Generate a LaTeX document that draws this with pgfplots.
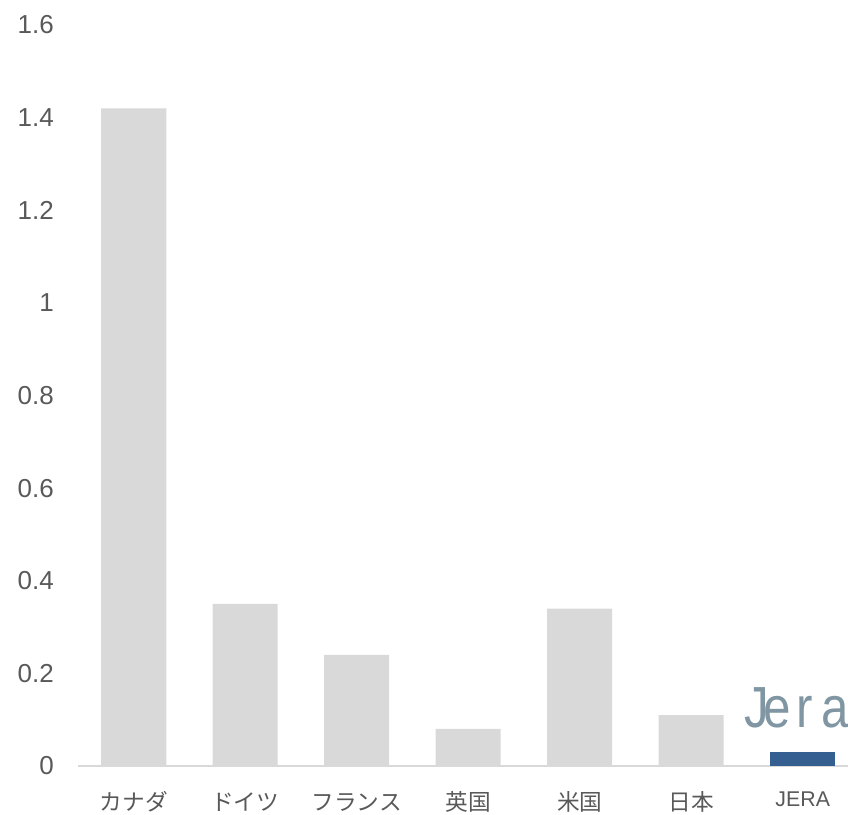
\documentclass[border=0pt]{standalone}
\usepackage{fontspec}
\setmainfont{Liberation Sans}
\newfontfamily\jpfont{Noto Sans CJK JP}
\usepackage{pgfplots}
\pgfplotsset{compat=1.18}

\definecolor{barGray}{HTML}{D9D9D9}
\definecolor{jeraBlue}{HTML}{355F91}
\definecolor{tickGray}{HTML}{595959}
\definecolor{logoGray}{HTML}{8096A2}

% values per country (x = category index)
\pgfplotstableread{
x val
0 1.42
1 0.35
2 0.24
3 0.08
4 0.34
5 0.11
}\countries
\pgfplotstableread{
x val
6 0.03
}\jera

\begin{document}
\begin{tikzpicture}
\begin{axis}[
  scale only axis,
  width=577.5pt, height=555.75pt,
  xmin=-0.5, xmax=6.406,
  ymin=0, ymax=1.6,
  axis line style={draw=none},
  major tick length=0pt,
  tick style={draw=none},
  ytick={0,0.2,0.4,0.6,0.8,1,1.2,1.4,1.6},
  yticklabels={0,0.2,0.4,0.6,0.8,1,1.2,1.4,1.6},
  yticklabel style={anchor=east, inner sep=0pt, xshift=-18pt,
    font=\fontsize{19.5}{21}\selectfont, text=tickGray},
  xtick={0,1,2,3,4,5,6},
  xticklabels={カナダ,ドイツ,フランス,英国,米国,日本,
    {\rmfamily\fontsize{16}{18}\selectfont\raisebox{3pt}{JERA}}},
  xticklabel style={anchor=base, inner sep=0pt, yshift=-33pt,
    font=\jpfont\fontsize{17}{19}\selectfont, text=tickGray},
  ybar, bar width=48.75pt, bar shift=0pt,
  clip=true,
]
\draw[barGray, line width=1pt] (axis cs:-0.5,0) -- (axis cs:6.406,0);
\addplot[fill=barGray, draw=none] table[x=x, y=val] {\countries};
\addplot[fill=jeraBlue, draw=none] table[x=x, y=val] {\jera};
% company logo lettering beside the last bar (runs off the right edge)
\node[anchor=base west, inner sep=0pt, text=logoGray,
      font=\fontsize{43.5}{44}\selectfont, xscale=0.85, transform shape]
  at (axis cs:5.48,0.0842) {J\kern-5.8pt e\kern4.9pt r\kern7.6pt a};
\end{axis}
\pgfresetboundingbox
\path[use as bounding box]
  ([shift={(-58.5pt,-36pt)}]current axis.south west)
  rectangle ([shift={(0pt,18.75pt)}]current axis.north east);
\end{tikzpicture}
\end{document}
